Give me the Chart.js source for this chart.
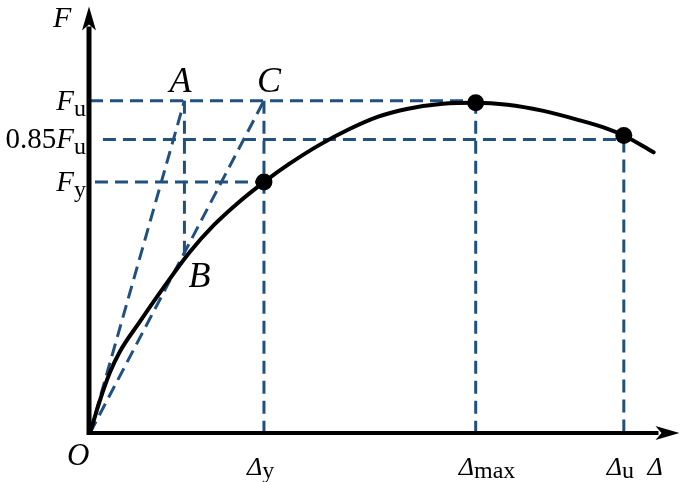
<!DOCTYPE html>
<html>
<head>
<meta charset="utf-8">
<script src="https://cdn.jsdelivr.net/npm/chart.js@4.4.1/dist/chart.umd.min.js"></script>
<style>
  html, body { margin: 0; padding: 0; background: #fff; }
</style>
</head>
<body>
<canvas id="curve" width="685" height="482"></canvas>
<script>
// F-Δ skeleton curve, units (x: Δ, y: F)
const curveX = [0, 10, 20, 30, 50, 75, 100, 125, 150, 175, 200, 230, 260, 290, 320, 355, 388, 420, 455, 490, 520, 537, 567];
const curveY = [0, 33, 61, 82, 112, 148, 182, 210, 233, 253, 271, 290, 306, 319, 327, 332, 333, 331, 325, 316, 307, 300, 283];

// characteristic points: yield, peak, ultimate
const markX = [175, 388, 537];
const markY = [253, 333, 300];

// load levels and displacements
const levelNames = ['Fu', '0.85Fu', 'Fy'];
const levelValues = [335, 296, 253];
const levelStart = [0, 13, 5];
const levelEnd = [388, 537, 175];

const dispNames = ['y', 'max', 'u'];
const dispValues = [175, 388, 537];
const dispTop = [335, 335, 296];

// point A (secant to Fu) and B (on the curve)
const pointA = [95, 335];
const pointB = [95, 177];
const pointC = [175, 335];

const xMax = 590;
const yMax = 428;

const blue = '#20507f';
const serif = '"Liberation Serif", "Times New Roman", serif';

function seg(x0, y0, x1, y1) {
    return [{ x: x0, y: y0 }, { x: x1, y: y1 }];
}

function dashed(data) {
    return {
        data: data, borderColor: blue, borderWidth: 3, borderDash: [13, 7],
        pointRadius: 0, fill: false, tension: 0
    };
}

const datasets = [];
datasets.push({
    data: markX.map((x, i) => ({ x: x, y: markY[i] })),
    showLine: false, pointRadius: 8.5, pointBackgroundColor: '#000', pointBorderWidth: 0
});
datasets.push({
    data: curveX.map((x, i) => ({ x: x, y: curveY[i] })),
    borderColor: '#000', borderWidth: 4, pointRadius: 0, fill: false,
    cubicInterpolationMode: 'monotone', borderCapStyle: 'round'
});
levelValues.forEach((v, i) => datasets.push(dashed(seg(levelStart[i], v, levelEnd[i], v))));
dispValues.forEach((v, i) => datasets.push(dashed(seg(v, dispTop[i], v, 0))));
datasets.push(dashed(seg(pointA[0], pointA[1], pointB[0], pointB[1])));
datasets.push(dashed(seg(0, 0, pointA[0], pointA[1])));
datasets.push(dashed(seg(0, 0, pointC[0], pointC[1])));

// writes main text + optional subscript
function drawParts(ctx, parts, x, y, align) {
    let w = 0;
    parts.forEach(p => { ctx.font = p.font; p.w = ctx.measureText(p.t).width; w += p.w; });
    let cx = align === 'right' ? x - w : (align === 'center' ? x - w / 2 : x);
    parts.forEach(p => {
        ctx.font = p.font;
        ctx.fillText(p.t, cx, y + (p.dy || 0));
        cx += p.w;
    });
}

const axesPlugin = {
    id: 'axesArrows',
    afterDatasetsDraw(chart) {
        const ctx = chart.ctx;
        const a = chart.chartArea;
        const xs = chart.scales.x, ys = chart.scales.y;
        const ox = xs.getPixelForValue(0), oy = ys.getPixelForValue(0);
        ctx.save();
        ctx.fillStyle = '#000';
        ctx.strokeStyle = '#000';
        // y axis
        ctx.lineWidth = 5;
        ctx.beginPath();
        ctx.moveTo(ox - 1, oy + 2);
        ctx.lineTo(ox - 1, a.top + 18);
        ctx.stroke();
        ctx.beginPath();
        ctx.moveTo(ox - 1, a.top - 2);
        ctx.lineTo(ox - 8, a.top + 22);
        ctx.lineTo(ox - 1, a.top + 16);
        ctx.lineTo(ox + 6, a.top + 22);
        ctx.closePath();
        ctx.fill();
        // x axis
        ctx.lineWidth = 4;
        ctx.beginPath();
        ctx.moveTo(ox - 3, oy);
        ctx.lineTo(a.right - 18, oy);
        ctx.stroke();
        ctx.beginPath();
        ctx.moveTo(a.right + 3, oy);
        ctx.lineTo(a.right - 21, oy - 7);
        ctx.lineTo(a.right - 15, oy);
        ctx.lineTo(a.right - 21, oy + 7);
        ctx.closePath();
        ctx.fill();

        // texts
        ctx.textBaseline = 'alphabetic';
        const itMain = 'italic 29px ' + serif;
        const upMain = '29px ' + serif;
        const sub = '24px ' + serif;
        const big = 'italic 36px ' + serif;
        const delta = 'italic 26px ' + serif;

        drawParts(ctx, [{ t: 'F', font: 'italic 30px ' + serif }], ox - 37, a.top + 18, 'left');
        drawParts(ctx, [{ t: 'Δ', font: delta }], a.right - 29, oy + 42, 'left');
        drawParts(ctx, [{ t: 'O', font: 'italic 31px ' + serif }], ox - 23, oy + 32, 'left');

        levelNames.forEach((n, i) => {
            const py = ys.getPixelForValue(levelValues[i]) + 9;
            const parts = [];
            if (n.startsWith('0.85')) parts.push({ t: '0.85', font: upMain });
            parts.push({ t: 'F', font: itMain });
            parts.push({ t: n.slice(-1), font: sub, dy: 6 });
            drawParts(ctx, parts, ox - 4, py, 'right');
        });

        dispNames.forEach((n, i) => {
            const px = xs.getPixelForValue(dispValues[i]);
            drawParts(ctx, [
                { t: 'Δ', font: delta },
                { t: n, font: sub, dy: 3 }
            ], px - 17, oy + 42, 'left');
        });

        const ax = xs.getPixelForValue(pointA[0]), ay = ys.getPixelForValue(pointA[1]);
        drawParts(ctx, [{ t: 'A', font: big }], ax - 15, ay - 9, 'left');
        const cx = xs.getPixelForValue(pointC[0]), cy = ys.getPixelForValue(pointC[1]);
        drawParts(ctx, [{ t: 'C', font: big }], cx - 7, cy - 9, 'left');
        const bx = xs.getPixelForValue(pointB[0]), by = ys.getPixelForValue(pointB[1]);
        drawParts(ctx, [{ t: 'B', font: big }], bx + 4, by + 30, 'left');
        ctx.restore();
    }
};

new Chart(document.getElementById('curve'), {
    type: 'line',
    data: { datasets: datasets },
    options: {
        responsive: false,
        animation: false,
        layout: { padding: { left: 90, right: 5, top: 5, bottom: 49 } },
        plugins: { legend: { display: false }, tooltip: { enabled: false } },
        scales: {
            x: { type: 'linear', min: 0, max: xMax, display: false },
            y: { type: 'linear', min: 0, max: yMax, display: false }
        },
        elements: { line: { borderJoinStyle: 'round' } }
    },
    plugins: [axesPlugin]
});
</script>
</body>
</html>
